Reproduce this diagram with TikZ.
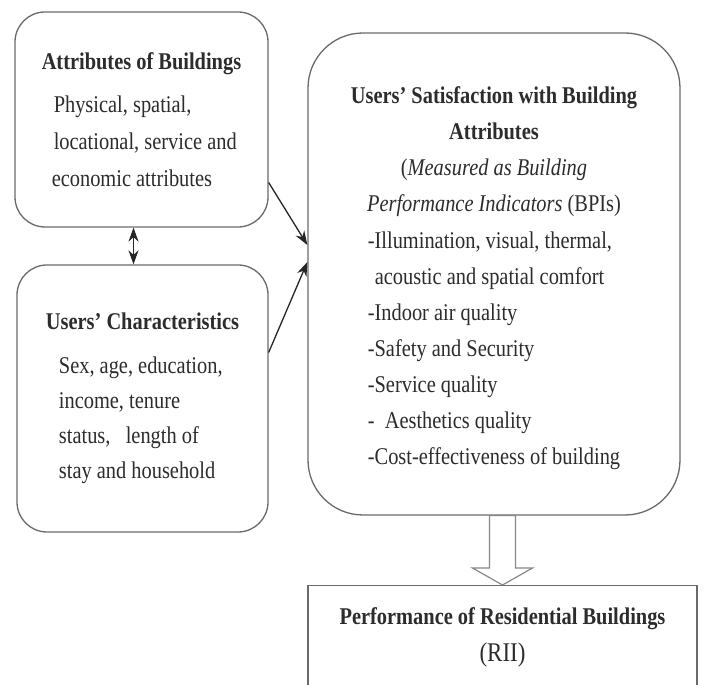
\documentclass[tikz,border=0pt]{standalone}
\usepackage{fontspec}
\setmainfont[FakeStretch=0.85]{Liberation Serif}
\usepackage{tikz}
\usetikzlibrary{arrows.meta}
\definecolor{boxgray}{HTML}{6a6a6a}
\definecolor{textgray}{HTML}{2c2c2c}
\tikzstyle{every node} = [text=textgray, font={\fontsize{24pt}{37pt}\selectfont}]
\tikzstyle{softbox} = [draw=boxgray, line width=1.3pt, rounded corners=30pt, align=left]
\tikzstyle{link} = [draw=black!85, line width=1.3pt, >={Stealth[length=14pt,width=10pt]}]

\begin{document}
\begin{tikzpicture}[x=1pt, y=1pt]
        \clip (0,0) rectangle (704,685);
        \fill[white] (0,0) rectangle (704,685);

        \node[softbox, minimum width=253pt, minimum height=215pt] (attr) at (141.5,565.5) {
            \textbf{Attributes of Buildings}\\[6pt]
            \hspace*{12pt}Physical, spatial,\\
            \hspace*{12pt}locational, service and\\
            \hspace*{10pt}economic attributes
        };
        \node[softbox, minimum width=251pt, minimum height=267pt, font={\fontsize{24pt}{35pt}\selectfont}] (users) at (142.5,286.5) {
            \textbf{Users' Characteristics}\\[9pt]
            \hspace*{13pt}Sex, age, education,\\
            \hspace*{13pt}income, tenure\\
            \hspace*{13pt}status, \ \ length of\\
            \hspace*{13pt}stay and household
        };
        \node[softbox, rounded corners=55pt, align=center, minimum width=372pt, minimum height=482pt, font={\fontsize{24pt}{36pt}\selectfont}] (satis) at (494,411) {
            \rule{0pt}{31pt}\textbf{Users' Satisfaction with Building}\\
            \textbf{Attributes}\\
            (\textit{Measured as Building}\\
            \textit{Performance Indicators} (BPIs)\\[5pt]
            \begin{tabular}{@{}l@{}}
                -Illumination, visual, thermal,\\
                \hspace*{7pt}acoustic and spatial comfort\\
                -Indoor air quality\\
                -Safety and Security\\
                -Service quality\\
                - \ Aesthetics quality\\
                -Cost-effectiveness of building
            \end{tabular}
        };
        \node[draw=boxgray, line width=1.3pt, align=center, anchor=north, minimum width=389pt,
              inner ysep=22pt, text depth=70pt] (perf) at (502.5,100) {
            \textbf{Performance of Residential Buildings}\\
            {\fontsize{27pt}{37pt}\selectfont (RII)}
        };

        % links into the satisfaction box
        \draw[link, <->] ([xshift=-8pt]attr.south) -- ([xshift=-8pt]attr.south |- users.north);
        \draw[link, ->] ([yshift=-63pt]attr.east) -- ([yshift=29pt]satis.west);
        \draw[link, ->] ([yshift=46pt]users.east) -- ([yshift=12pt]satis.west);

        % hollow arrow down to the result
        \coordinate (head) at ([yshift=17pt]perf.north);
        \draw[draw=boxgray!80, fill=white, line width=1.2pt]
            (perf.north) -- ([xshift=-30pt]head) -- ([xshift=-13pt]head)
            -- ([xshift=-13pt]head |- satis.south) -- ([xshift=13pt]head |- satis.south)
            -- ([xshift=13pt]head) -- ([xshift=30pt]head) -- cycle;
    \end{tikzpicture}
\end{document}
